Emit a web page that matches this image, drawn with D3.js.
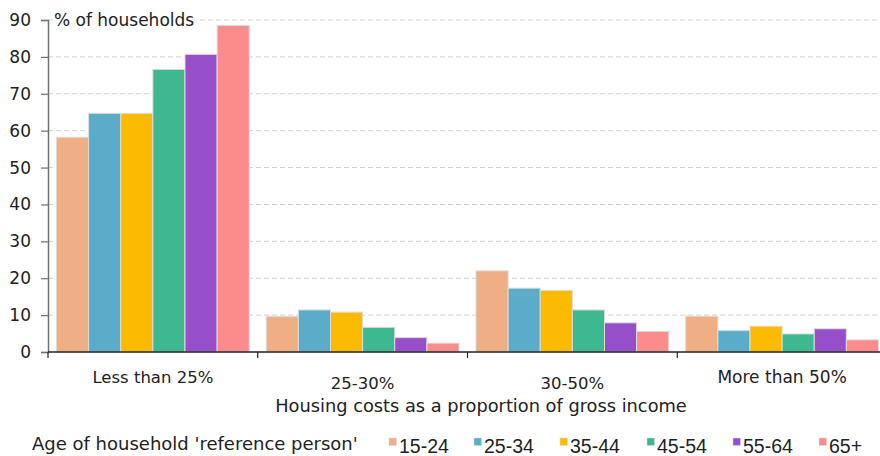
<!DOCTYPE html>
<html>
<head>
<meta charset="utf-8">
<script src="https://cdn.jsdelivr.net/npm/d3@7"></script>
<style>
  body { margin: 0; background: #fff; }
  text { font-family: "DejaVu Sans", sans-serif; fill: #222; }
</style>
</head>
<body>
<div id="chart"></div>
<script>
let categories = ['Less than 25%', '25-30%', '30-50%', 'More than 50%']
let ages = ['15-24', '25-34', '35-44', '45-54', '55-64', '65+']
let colors = ['#F0AE84', '#5AACC8', '#FDBB00', '#3DB891', '#964FC8', '#FC8C8C']

// % of households, one array per age group, in category order
let v1524 = [58.2, 9.6, 22.0, 9.7]
let v2534 = [64.7, 11.4, 17.3, 5.8]
let v3544 = [64.7, 10.8, 16.7, 7.0]
let v4554 = [76.6, 6.7, 11.4, 4.9]
let v5564 = [80.7, 3.9, 7.9, 6.3]
let v65 = [88.5, 2.4, 5.6, 3.3]
let series = [v1524, v2534, v3544, v4554, v5564, v65]

let yTicks = [0, 10, 20, 30, 40, 50, 60, 70, 80, 90]

let width = 880,
  height = 456,
  plotLeft = 48,
  plotTop = 20,
  plotBottom = 352

let svg = d3.select('#chart').append('svg')
  .attr('width', width)
  .attr('height', height)

// scales
let x = d3.scaleBand()
  .domain(categories)
  .range([plotLeft, 887])

let x1 = d3.scaleBand()
  .domain(ages)
  .range([8.5, x.bandwidth() - 8.5])

let y = d3.scaleLinear()
  .domain([0, 90])
  .range([plotBottom, plotTop])

// dashed gridlines
svg.append('g').selectAll('.grid')
  .data(yTicks.filter(d => d > 0))
  .enter().append('line')
  .attr('x1', plotLeft)
  .attr('x2', width)
  .attr('y1', d => y(d))
  .attr('y2', d => y(d))
  .attr('stroke', '#d0d0d0')
  .attr('stroke-dasharray', '5,3')

// bars
let rows = []
categories.forEach(function (c, i) {
  ages.forEach(function (a, j) {
    rows.push({cat: c, age: a, value: series[j][i], color: colors[j]})
  })
})

svg.append('g').selectAll('rect')
  .data(rows)
  .enter().append('rect')
  .attr('x', d => x(d.cat) + x1(d.age))
  .attr('y', d => y(d.value))
  .attr('width', x1.bandwidth())
  .attr('height', d => y(0) - y(d.value))
  .attr('fill', d => d.color)
  .attr('stroke', '#dcdcdc')
  .attr('stroke-width', 1)

// y axis
let yAxis = svg.append('g')
  .attr('transform', 'translate(' + plotLeft + ',0)')
  .call(d3.axisLeft(y).tickValues(yTicks).tickSize(7).tickPadding(10))
yAxis.select('.domain').attr('stroke', '#707070').attr('stroke-width', 1.5)
yAxis.selectAll('.tick line').attr('stroke', '#707070').attr('stroke-width', 1.2)
yAxis.selectAll('.tick text')
  .style('font-family', '"DejaVu Sans", sans-serif')
  .style('font-size', '17px')
  .attr('fill', '#222')

// x axis line and boundary ticks
svg.append('line')
  .attr('x1', plotLeft)
  .attr('x2', width)
  .attr('y1', plotBottom)
  .attr('y2', plotBottom)
  .attr('stroke', '#222')
  .attr('stroke-width', 1.5)

svg.append('g').selectAll('.xtick')
  .data(categories)
  .enter().append('line')
  .attr('x1', d => x(d))
  .attr('x2', d => x(d))
  .attr('y1', plotBottom)
  .attr('y2', plotBottom + 6)
  .attr('stroke', '#222')
  .attr('stroke-width', 1.2)

// category labels (the middle two sit a little lower, as in the original)
svg.append('g').selectAll('.cat-label')
  .data(categories)
  .enter().append('text')
  .attr('x', d => x(d) + x.bandwidth() / 2)
  .attr('y', (d, i) => (i === 1 || i === 2) ? 389 : 383)
  .attr('text-anchor', 'middle')
  .style('font-size', (d, i) => i === 3 ? '17px' : '16.5px')
  .text(d => d)

svg.append('text')
  .attr('x', 481)
  .attr('y', 411.5)
  .attr('text-anchor', 'middle')
  .style('font-size', '17.8px')
  .text('Housing costs as a proportion of gross income')

// unit label with white backing over the top gridline
let unitBg = svg.append('rect').attr('fill', '#fff')
let unit = svg.append('text')
  .attr('x', 54)
  .attr('y', 26)
  .style('font-size', '17px')
  .text('% of households')
let bb = unit.node().getBBox()
unitBg
  .attr('x', bb.x - 1)
  .attr('y', bb.y)
  .attr('width', bb.width + 3)
  .attr('height', bb.height)

// legend
svg.append('text')
  .attr('x', 32)
  .attr('y', 450)
  .style('font-size', '18px')
  .text("Age of household 'reference person'")

let legendX = [389, 474, 560, 647, 733, 819]
let legend = svg.append('g').selectAll('.legend')
  .data(ages)
  .enter().append('g')
  .attr('transform', (d, i) => 'translate(' + legendX[i] + ',0)')

legend.append('rect')
  .attr('x', 0)
  .attr('y', 438)
  .attr('width', 7.5)
  .attr('height', 7.5)
  .attr('fill', (d, i) => colors[i])
  .attr('stroke', '#dcdcdc')
  .attr('stroke-width', 0.5)

legend.append('text')
  .attr('x', 10)
  .attr('y', 452.5)
  .style('font-family', '"Liberation Sans", Arial, sans-serif')
  .style('font-size', '19.5px')
  .text(d => d)
</script>
</body>
</html>
